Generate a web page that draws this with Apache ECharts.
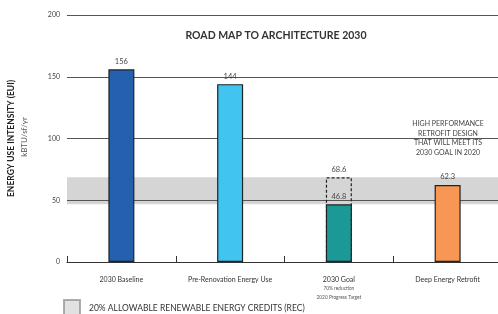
<!DOCTYPE html>
<html>
<head>
<meta charset="utf-8">
<script src="https://cdn.jsdelivr.net/npm/echarts@6/dist/echarts.min.js"></script>
<style>html,body{margin:0;padding:0;background:#fff}#c{width:498px;height:314px}</style>
</head>
<body>
<div id="c"></div>
<script>
const categories = ['2030 Baseline', 'Pre-Renovation Energy Use', '2030 Goal', 'Deep Energy Retrofit'];
const euiValues = [156, 144, 46.8, 62.3];
const goalTarget = 68.6;
const recBand = [46.8, 68.6];
const yTicks = [0, 50, 100, 150, 200];
const barColors = ['#2560ae', '#41c5f0', '#1b9997', '#f79655'];
const goalNotes = ['70% reduction', '2020 Progress Target'];
const legendName = '20% ALLOWABLE RENEWABLE ENERGY CREDITS (REC)';
const noteLines = ['HIGH PERFORMANCE', 'RETROFIT DESIGN', 'THAT WILL MEET ITS', '2030 GOAL IN 2020'];

const FONT = 'Lato';
const chart = echarts.init(document.getElementById('c'), null, {renderer: 'canvas'});

const goalIdx = categories.indexOf('2030 Goal');
const dashedData = categories.map((c, i) => i === goalIdx ? goalTarget : '-');

chart.setOption({
  animation: false,
  textStyle: {fontFamily: FONT},
  title: {
    text: 'ROAD MAP TO ARCHITECTURE 2030',
    left: 271, top: 25, textAlign: 'center',
    textStyle: {fontFamily: FONT, fontSize: 10.5, fontWeight: 'bold', color: '#333'}
  },
  legend: {
    data: [legendName],
    left: 63, top: 299, padding: 0,
    itemWidth: 16, itemHeight: 16, itemGap: 10,
    icon: 'rect',
    textStyle: {fontFamily: FONT, fontSize: 8.5, color: '#333', padding: [0, 0, 0, 4]}
  },
  grid: {left: 67, top: 15, width: 435, bottom: 52, outerBoundsMode: 'none', containLabel: false},
  xAxis: {
    type: 'category',
    data: categories,
    z: 3,
    axisLine: {lineStyle: {color: '#333', width: 1}},
    axisTick: {show: true, inside: true, length: 6, lineStyle: {color: '#333'}},
    axisLabel: {
      interval: 0,
      margin: 13,
      fontFamily: FONT, fontSize: 7, color: '#333',
      formatter: v => v === '2030 Goal' ? v + '\n{s|' + goalNotes[0] + '}\n{s|' + goalNotes[1] + '}' : v,
      lineHeight: 9,
      rich: {s: {fontSize: 4.8, color: '#555', lineHeight: 9, fontFamily: FONT}}
    }
  },
  yAxis: {
    type: 'value',
    min: yTicks[0], max: yTicks[yTicks.length - 1], interval: 50,
    z: 1,
    name: 'ENERGY USE INTENSITY (EUI)',
    nameLocation: 'middle',
    nameGap: 51,
    nameRotate: 90,
    nameTextStyle: {fontFamily: FONT, fontSize: 8.5, fontWeight: 'bold', color: '#222'},
    axisLine: {show: false},
    axisTick: {show: false},
    axisLabel: {fontFamily: FONT, fontSize: 7, color: '#444', margin: 7},
    splitLine: {lineStyle: {color: '#555', width: 1.2}}
  },
  graphic: [
    {
      type: 'text', x: 24, y: 137, rotation: Math.PI / 2,
      style: {text: 'kBTU/sf/yr', fontFamily: FONT, fontSize: 8, fill: '#555', align: 'center', verticalAlign: 'middle'}
    },
    {
      type: 'text', x: 448, y: 119,
      style: {text: noteLines.join('\n'), fontFamily: FONT, fontSize: 7, lineHeight: 9.6, fill: '#444', align: 'center', verticalAlign: 'top'}
    }
  ],
  series: [
    {
      name: legendName,
      type: 'scatter',
      data: [],
      z: 0,
      itemStyle: {color: '#d9d9d9', borderColor: '#999', borderWidth: 1},
      markArea: {
        silent: true,
        z: 0,
        itemStyle: {color: '#d5d5d5'},
        data: [[{yAxis: recBand[0]}, {yAxis: recBand[1]}]]
      }
    },
    {
      name: 'goalTarget',
      type: 'bar',
      data: dashedData,
      barWidth: 26,
      barGap: '-100%',
      z: 2,
      itemStyle: {color: 'rgba(0,0,0,0)', borderColor: '#222', borderWidth: 1.2, borderType: [3, 2]},
      label: {show: true, position: 'top', distance: 4, fontFamily: FONT, fontSize: 7.5, color: '#444'}
    },
    {
      name: 'EUI',
      type: 'bar',
      data: euiValues.map((v, i) => ({value: v, itemStyle: {color: barColors[i]}})),
      barWidth: 26,
      barGap: '-100%',
      z: 3,
      itemStyle: {borderColor: '#222', borderWidth: 1.2},
      label: {show: true, position: 'top', distance: 4, fontFamily: FONT, fontSize: 7.5, color: '#444'}
    }
  ]
});
</script>
</body>
</html>
